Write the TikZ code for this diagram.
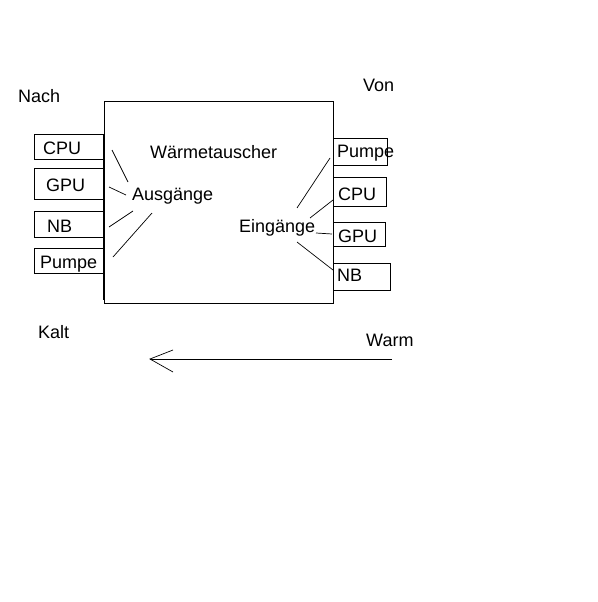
\documentclass[tikz,border=0pt]{standalone}
\usepackage{fontspec}
\setmainfont{Liberation Sans}
\begin{document}
\begin{tikzpicture}[x=1pt,y=-1pt,
  lbl/.style={inner sep=0pt,anchor=base west,font=\fontsize{18}{21}\selectfont},
  box/.style={draw=black,line width=1pt},
  conn/.style={draw=black,line width=0.7pt}]
\useasboundingbox[fill=white] (0,0) rectangle (597,602);
% main box
\draw[box] (104,101) rectangle (333,303);
\draw[line width=2pt] (104,135) -- (104,300);
\node[lbl] (waerme) at (150,158) {Wärmetauscher};
\node[lbl] (aus) at (132,200) {Ausgänge};
\node[lbl] (ein) at (239,232) {Eingänge};
% left boxes
\draw[box] (34,134) rectangle (104,159);
\draw[box] (34,168) rectangle (104,199);
\draw[box] (34,211) rectangle (104,237);
\draw[box] (34,248) rectangle (104,273);
\node[lbl] (lcpu) at (43,154) {CPU};
\node[lbl] (lgpu) at (46,191) {GPU};
\node[lbl] (lnb) at (47,232) {NB};
\node[lbl] (lpumpe) at (40,268) {Pumpe};
\node[lbl] (nach) at (18,102) {Nach};
% right boxes
\draw[box] (333,138) rectangle (387,165);
\draw[box] (333,177) rectangle (386,206);
\draw[box] (333,222) rectangle (385,246);
\draw[box] (333,263) rectangle (390,290);
\node[lbl] (rpumpe) at (337,157) {Pumpe};
\node[lbl] (rcpu) at (338,200) {CPU};
\node[lbl] (rgpu) at (338,242) {GPU};
\node[lbl] (rnb) at (337,281) {NB};
\node[lbl] (von) at (363,92) {Von};
% left connectors
\coordinate (a1) at (112,150); \coordinate (a1e) at (128,182);
\coordinate (a2) at (109,187); \coordinate (a2e) at (126,195);
\coordinate (a3) at (109,227); \coordinate (a3e) at (133,211);
\coordinate (a4) at (113,257); \coordinate (a4e) at (152,213);
\draw[conn] (a1) -- (a1e);
\draw[conn] (a2) -- (a2e);
\draw[conn] (a3) -- (a3e);
\draw[conn] (a4) -- (a4e);
% right connectors
\coordinate (e1) at (297,208); \coordinate (e1e) at (330,158);
\coordinate (e2) at (310,218); \coordinate (e2e) at (333,200);
\coordinate (e3) at (316,233); \coordinate (e3e) at (332,234);
\coordinate (e4) at (297,242); \coordinate (e4e) at (333,270);
\draw[conn] (e1) -- (e1e);
\draw[conn] (e2) -- (e2e);
\draw[conn] (e3) -- (e3e);
\draw[conn] (e4) -- (e4e);
% bottom
\node[lbl] (kalt) at (38,338) {Kalt};
\node[lbl] (warm) at (366,346) {Warm};
\coordinate (arS) at (392,359);
\coordinate (arE) at (150,359);
\coordinate (arU) at (173,350);
\coordinate (arD) at (173,372);
\draw[conn,line width=1pt] (arS) -- (arE);
\draw[conn] (arU) -- (arE) -- (arD);
\end{tikzpicture}
\end{document}
